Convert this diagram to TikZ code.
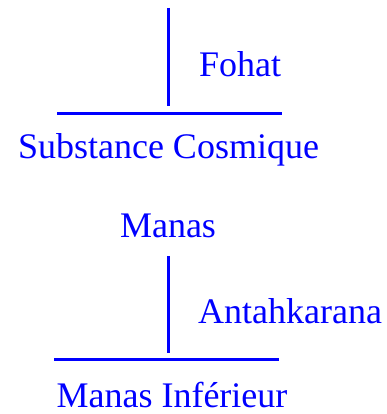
\documentclass[tikz,border=0pt]{standalone}
\usepackage{fontspec}
\setmainfont{Liberation Serif}
\definecolor{fblue}{RGB}{0,0,255}
\tikzset{
	lbl/.style={text=fblue, inner sep=0pt, font=\fontsize{36}{40}\selectfont},
	bar/.style={draw=fblue, line width=3pt}
}
\begin{document}
\begin{tikzpicture}[x=1pt, y=-1pt]
		\useasboundingbox (0,0) rectangle (386,414);
		
		% Upper level
		\coordinate (ftop) at (168,8);
		\coordinate (fbot) at (168,106);
		\coordinate (sl) at (57,114);
		\coordinate (sr) at (282,114);
		\node[lbl, anchor=base west] (fohat) at (199,77) {Fohat};
		\node[lbl, anchor=base] (subst) at (168.5,158) {Substance Cosmique};
		\draw[bar] (ftop) -- (fbot);
		\draw[bar] (sl) -- (sr);
		
		% Lower level
		\node[lbl, anchor=base] (manas) at (168,237) {Manas};
		\coordinate (abot) at (168,353);
		\coordinate (ml) at (54,359);
		\coordinate (mr) at (279,359);
		\node[lbl, anchor=base west] (antah) at (198,323) {Antahkarana};
		\node[lbl, anchor=base] (minf) at (172,407) {Manas Inférieur};
		\draw[bar] (manas.south |- 0,256) -- (abot);
		\draw[bar] (ml) -- (mr);
	\end{tikzpicture}
\end{document}
